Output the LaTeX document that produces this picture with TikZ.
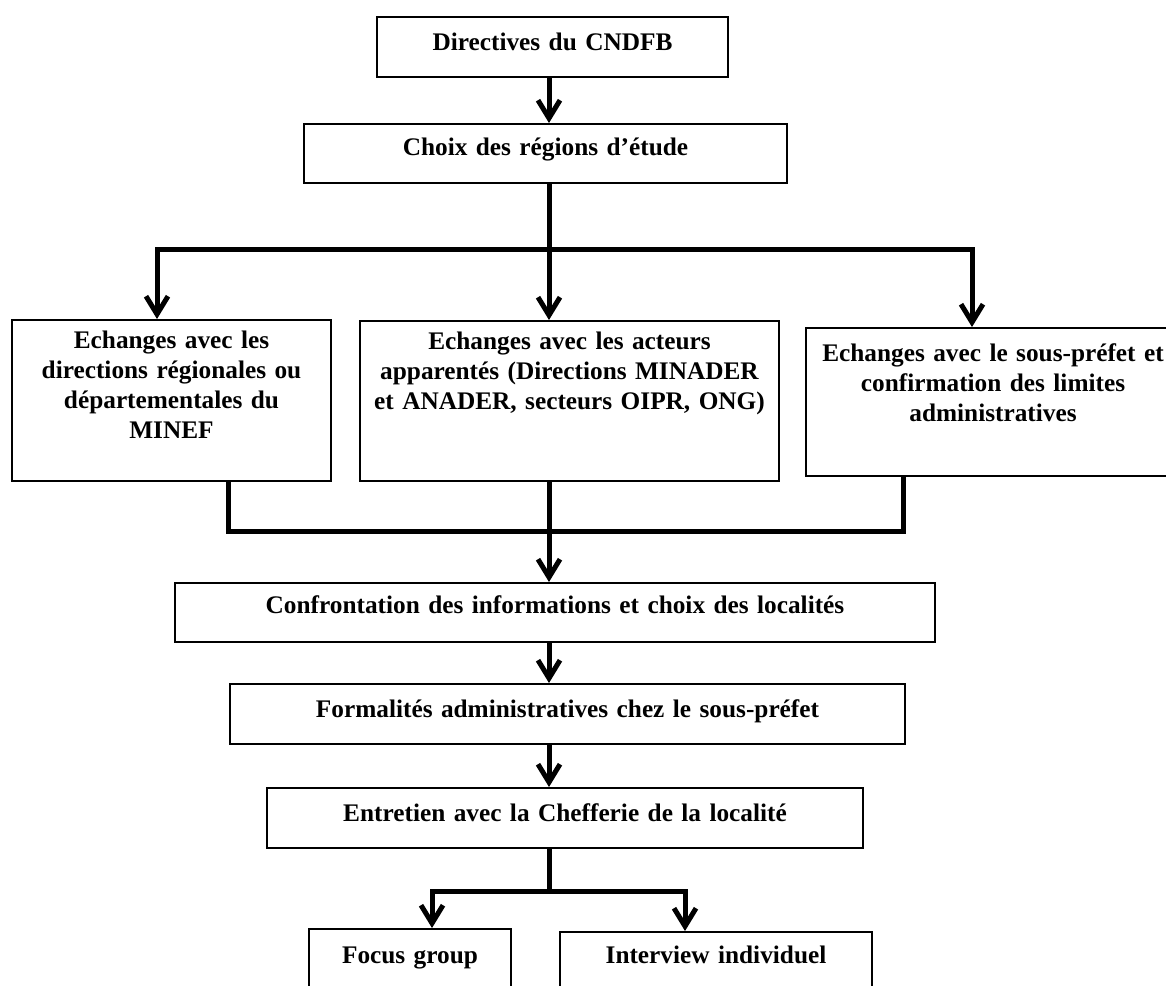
\documentclass[tikz,border=0pt]{standalone}
\usepackage{fontspec}
\setmainfont{Liberation Serif}
\usetikzlibrary{arrows.meta}
\tikzstyle{box} = [rectangle, draw, line width=1pt, inner xsep=0pt, inner ysep=0pt, align=center, anchor=north, font=\bfseries\fontsize{12.65}{15}\selectfont]
\tikzstyle{link} = [draw, line width=2.5pt]
\tikzstyle{line} = [link, -{Straight Barb[length=9pt,width=11pt]}]
\tikzstyle{fork} = [link, {Straight Barb[length=9pt,width=11pt]}-{Straight Barb[length=9pt,width=11pt]}]

\begin{document}
\begin{tikzpicture}[x=0.5pt, y=-0.5pt]
        \useasboundingbox (0,0) rectangle (1166,985);
        \clip (0,0) rectangle (1166,985);

        \node [box, text width=175.5pt, text height=16.5pt, text depth=13.5pt] (cndfb) at (552.5,16) {Directives du CNDFB};
        \node [box, text width=241.5pt, text height=15.5pt, text depth=14pt] (choix) at (545.5,123) {Choix des régions d’étude};
        \node [box, text width=159.5pt, text height=14pt, text depth=66.5pt] (minef) at (171.5,319) {Echanges avec les\\ directions régionales ou\\ départementales du\\ MINEF};
        \node [box, text width=209.5pt, text height=14pt, text depth=66pt] (acteurs) at (569.5,320) {Echanges avec les acteurs\\ apparentés (Directions MINADER\\ et ANADER, secteurs OIPR, ONG)};
        \node [box, text width=187pt, text height=16.5pt, text depth=57.5pt] (prefet) at (993,327) {Echanges avec le sous-préfet et\\ confirmation des limites\\ administratives};
        \node [box, text width=380pt, text height=15pt, text depth=14.5pt] (confront) at (555,582) {Confrontation des informations et choix des localités};
        \node [box, text width=337.5pt, text height=16.5pt, text depth=13.5pt] (formal) at (567.5,683) {Formalités administratives chez le sous-préfet};
        \node [box, text width=298pt, text height=16.5pt, text depth=13.5pt] (chefferie) at (565,787) {Entretien avec la Chefferie de la localité};
        \node [box, text width=101pt, text height=17pt, text depth=23pt] (focus) at (410,928) {Focus group};
        \node [box, text width=156pt, text height=15.5pt, text depth=24.5pt] (interview) at (716,931) {Interview individuel};

        \coordinate (spine) at (549,0);
        \coordinate (splitL) at (157,249);
        \coordinate (splitR) at (972,249);
        \coordinate (joinL) at (228,531);
        \coordinate (joinR) at (903,531);
        \coordinate (splitB) at (549,891);
        \coordinate (focusL) at (432,891);
        \coordinate (focusR) at (685,891);

        \path [line] (cndfb.south -| spine) -- (choix.north -| spine);
        \path [line] (choix.south -| spine) -- (acteurs.north -| spine);
        \path [fork] (minef.north -| splitL) -- (splitL) -- (splitR) -- (prefet.north -| splitR);
        \path [link] (minef.south -| joinL) -- (joinL) -- (joinR) -- (prefet.south -| joinR);
        \path [line] (acteurs.south -| spine) -- (confront.north -| spine);
        \path [line] (confront.south -| spine) -- (formal.north -| spine);
        \path [line] (formal.south -| spine) -- (chefferie.north -| spine);
        \path [link] (chefferie.south -| spine) -- (splitB);
        \path [fork] (focus.north -| focusL) -- (focusL) -- (focusR) -- (interview.north -| focusR);
\end{tikzpicture}
\end{document}
